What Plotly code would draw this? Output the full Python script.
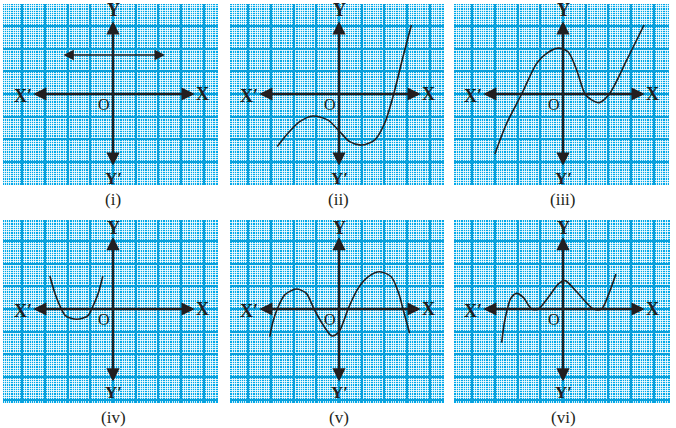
import plotly.graph_objects as go

W, H = 676, 428
U = 22.7  # pixels per major grid cell

# ---- curve data (in grid units, origin at axes crossing) ----
i_line_x = [-2.25, 2.29]
i_line_y = [1.72, 1.72]

ii_x = [-2.72, -2.25, -1.73, -1.15, -0.48, 0.0, 0.47, 0.98, 1.57, 2.01, 2.41, 2.82, 3.19]
ii_y = [-2.31, -1.73, -1.22, -0.97, -1.15, -1.62, -2.10, -2.25, -2.03, -1.29, 0.0, 1.64, 3.04]

iii_x = [-3.0, -2.48, -1.82, -1.16, -0.72, -0.21, 0.23, 0.60, 0.97, 1.26, 1.6, 2.04, 2.81, 3.57]
iii_y = [-2.64, -1.29, 0.0, 1.35, 1.79, 2.02, 1.85, 1.06, 0.0, -0.26, -0.38, 0.0, 1.5, 3.04]

iv_x = [-2.78, -2.56, -2.29, -2.11, -1.85, -1.60, -1.35, -1.09, -0.94, -0.65, -0.45]
iv_y = [1.45, 0.69, 0.03, -0.28, -0.41, -0.45, -0.41, -0.28, 0.0, 0.69, 1.45]

v_x = [-3.05, -2.91, -2.72, -2.39, -1.88, -1.44, -1.10, -0.70, -0.31, 0.0, 0.2, 0.40, 0.84, 1.28, 1.79, 2.30, 2.63, 2.82, 3.11]
v_y = [-1.22, -0.56, 0.0, 0.62, 0.88, 0.69, 0.0, -0.70, -1.19, -1.0, -0.55, 0.0, 0.91, 1.42, 1.64, 1.42, 0.69, 0.0, -1.07]

vi_x = [-2.70, -2.59, -2.45, -2.30, -2.04, -1.75, -1.53, -1.38, -1.09, -0.57, -0.21, 0.09, 0.60, 1.34, 1.70, 2.0, 2.33]
vi_y = [-1.48, -0.63, 0.0, 0.47, 0.69, 0.51, 0.18, 0.0, 0.0, 0.62, 1.10, 1.25, 0.76, 0.0, 0.0, 0.62, 1.54]

captions = ["(i)", "(ii)", "(iii)", "(iv)", "(v)", "(vi)"]
curves = [None, (ii_x, ii_y), (iii_x, iii_y), (iv_x, iv_y), (v_x, v_y), (vi_x, vi_y)]

# ---- panel geometry (pixels): box x0,x1,y0,y1 and origin ----
panels = [
    ((3, 218, 4, 185), (113, 94)),
    ((230, 444, 4, 185), (339, 94)),
    ((454, 669, 4, 185), (563, 94)),
    ((3, 218, 220, 403), (113, 309)),
    ((230, 444, 220, 403), (339, 309)),
    ((454, 670, 220, 403), (563, 309)),
]

INK = "#231F20"
CYAN = "#03A9E9"
SERIF = "Liberation Serif, Times New Roman, serif"

fig = go.Figure()
layout = dict(width=W, height=H, margin=dict(l=0, r=0, t=0, b=0),
              paper_bgcolor="white", plot_bgcolor=CYAN, showlegend=False)
annotations = []

for k, ((x0, x1, y0, y1), (ox, oy)) in enumerate(panels):
    n = "" if k == 0 else str(k + 1)
    xa, ya = "x" + n, "y" + n
    xr = [(x0 - ox) / U, (x1 - ox) / U]
    yr = [(oy - y1) / U, (oy - y0) / U]
    common = dict(showticklabels=False, zeroline=False, ticks="", showline=False,
                  dtick=1, tick0=0, showgrid=True, gridcolor="#0A9FDA", gridwidth=2,
                  minor=dict(dtick=0.1, tick0=0, showgrid=True,
                             gridcolor="rgba(255,255,255,0.8)", gridwidth=1),
                  fixedrange=True)
    layout["xaxis" + n] = dict(domain=[x0 / W, x1 / W], range=xr, anchor=ya, **common)
    layout["yaxis" + n] = dict(domain=[1 - y1 / H, 1 - y0 / H], range=yr, anchor=xa, **common)

    row2 = k >= 3
    ytop = 3.2 if not row2 else 3.17
    ybot = -3.22 if not row2 else -3.26
    annotations.append(dict(x=3.6, y=0, ax=-3.58, ay=0, xref=xa, yref=ya, axref=xa, ayref=ya,
                            showarrow=True, arrowhead=2, arrowside="end+start", arrowsize=1.1,
                            arrowwidth=2.4, arrowcolor=INK, text=""))
    annotations.append(dict(x=0, y=ytop, ax=0, ay=ybot, xref=xa, yref=ya, axref=xa, ayref=ya,
                            showarrow=True, arrowhead=2, arrowside="end+start", arrowsize=1.1,
                            arrowwidth=2.4, arrowcolor=INK, text=""))
    ylab_top = 3.7 if not row2 else 3.57
    ylab_bot = -3.72 if not row2 else -3.68
    for (tx, ty, t, sz, b) in [(0, ylab_top, "Y", 18, True), (0, ylab_bot, "Y′", 17, True),
                               (-3.96, -0.08, "X′", 18, True), (3.95, -0.02, "X", 18, True),
                               (-0.38, -0.48, "O", 16, False)]:
        annotations.append(dict(x=tx, y=ty, xref=xa, yref=ya, showarrow=False,
                                xanchor="center", yanchor="middle",
                                text=("<b>%s</b>" % t) if b else t,
                                font=dict(family=SERIF, size=sz, color=INK)))
    cy = 199 if not row2 else 417
    annotations.append(dict(x=ox / W, y=1 - cy / H, xref="paper", yref="paper", showarrow=False,
                            xanchor="center", yanchor="middle",
                            text=captions[k], font=dict(family=SERIF, size=17, color=INK)))

    if curves[k] is not None:
        cx, cyv = curves[k]
        fig.add_trace(go.Scatter(x=cx, y=cyv, xaxis=xa, yaxis=ya, mode="lines",
                                 line=dict(color=INK, width=1.6, shape="spline", smoothing=0.8),
                                 hoverinfo="skip"))
    else:
        fig.add_trace(go.Scatter(x=[0], y=[0], xaxis=xa, yaxis=ya, mode="markers",
                                 marker=dict(opacity=0), hoverinfo="skip"))
        annotations.append(dict(x=i_line_x[1], y=i_line_y[1], ax=i_line_x[0], ay=i_line_y[0],
                                xref=xa, yref=ya, axref=xa, ayref=ya, showarrow=True,
                                arrowhead=2, arrowside="end+start", arrowsize=1.3,
                                arrowwidth=1.6, arrowcolor=INK, text=""))

layout["annotations"] = annotations
fig.update_layout(**layout)
fig.write_html("out.html")
